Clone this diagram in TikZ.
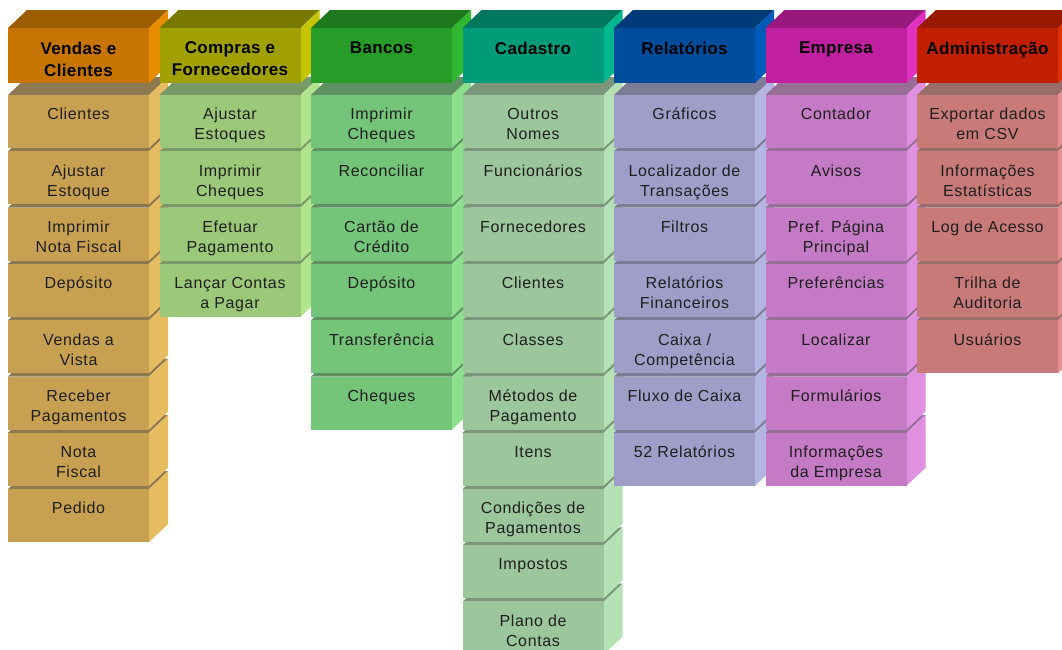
\documentclass[tikz,border=0pt]{standalone}
\usepackage{fontspec}
\setmainfont{Liberation Sans}
\newfontfamily\menufont[LetterSpace=4]{Liberation Sans}
\newfontfamily\titlefont[LetterSpace=2]{Liberation Sans}

% header colours: front, top, side; item colours: front, top, side
\definecolor{vendashead}{HTML}{C87400}\definecolor{vendashtop}{HTML}{9C5C00}\definecolor{vendashside}{HTML}{E88C00}
\definecolor{vendasitem}{HTML}{C8A052}\definecolor{vendastop}{HTML}{8E7850}\definecolor{vendasside}{HTML}{E6BC60}
\definecolor{comprashead}{HTML}{A0A000}\definecolor{comprashtop}{HTML}{787800}\definecolor{comprashside}{HTML}{C4C400}
\definecolor{comprasitem}{HTML}{9CC87A}\definecolor{comprastop}{HTML}{789A68}\definecolor{comprasside}{HTML}{B2E48E}
\definecolor{bancoshead}{HTML}{289C28}\definecolor{bancoshtop}{HTML}{1E781E}\definecolor{bancoshside}{HTML}{30B830}
\definecolor{bancositem}{HTML}{74C47A}\definecolor{bancostop}{HTML}{5E9262}\definecolor{bancosside}{HTML}{8CE08C}
\definecolor{cadastrohead}{HTML}{009C7A}\definecolor{cadastrohtop}{HTML}{00785E}\definecolor{cadastrohside}{HTML}{00B890}
\definecolor{cadastroitem}{HTML}{9CC69C}\definecolor{cadastrotop}{HTML}{7C967C}\definecolor{cadastroside}{HTML}{B4E2B4}
\definecolor{relatorioshead}{HTML}{004C9C}\definecolor{relatorioshtop}{HTML}{003A78}\definecolor{relatorioshside}{HTML}{005AB8}
\definecolor{relatoriositem}{HTML}{9E9EC8}\definecolor{relatoriostop}{HTML}{7C7C96}\definecolor{relatoriosside}{HTML}{B4B4E0}
\definecolor{empresahead}{HTML}{C020A0}\definecolor{empresahtop}{HTML}{98187E}\definecolor{empresahside}{HTML}{E030C0}
\definecolor{empresaitem}{HTML}{C47AC4}\definecolor{empresatop}{HTML}{966E96}\definecolor{empresaside}{HTML}{E090E0}
\definecolor{adminhead}{HTML}{C02000}\definecolor{adminhtop}{HTML}{981800}\definecolor{adminhside}{HTML}{E03000}
\definecolor{adminitem}{HTML}{C87A78}\definecolor{admintop}{HTML}{986C68}\definecolor{adminside}{HTML}{E49090}

% #1 left x, #2 colour prefix, #3 header text, #4 items
\newcommand{\menustack}[4]{%
  \foreach \txt [count=\i from 0] in {#4}
    \fill[#2top] (#1, 95+56.3*\i) -- ++(141,0) -- ++(19,-18) -- ++(-141,0) -- cycle;
  \foreach \txt [count=\i from 0] in {#4} {
    \fill[#2side] (#1+141, 95+56.3*\i) -- ++(19,-18) -- ++(0,53) -- ++(-19,18) -- cycle;
    \fill[#2item] (#1, 95+56.3*\i) rectangle ++(141,53);
    \node[itemlabel] (#2-\i) at (#1+70.5, 108+56.3*\i) {\txt};
  }
  \fill[#2htop] (#1,28) -- ++(141,0) -- ++(19,-18) -- ++(-141,0) -- cycle;
  \fill[#2hside] (#1+141,28) -- ++(19,-18) -- ++(0,55) -- ++(-19,18) -- cycle;
  \fill[#2head] (#1,28) rectangle ++(141,55);
  \node[headlabel] (#2-head) at (#1+70.5,41.5) {#3};
}

\begin{document}
\begin{tikzpicture}[x=1pt, y=-1pt,
  itemlabel/.style={anchor=north, inner sep=0pt, align=center, text=black!88,
    font=\menufont\fontsize{16}{20}\selectfont},
  headlabel/.style={anchor=north, inner sep=0pt, align=center, text=black,
    font=\titlefont\bfseries\fontsize{17}{22}\selectfont}]
\useasboundingbox[fill=white] (0,0) rectangle (1062,649);
\clip (0,0) rectangle (1062,649);

% Stacks
\menustack{8}{vendas}{Vendas e\\Clientes}{Clientes, {Ajustar\\Estoque}, {Imprimir\\Nota Fiscal}, Depósito, {Vendas a\\Vista}, {Receber\\Pagamentos}, {Nota\\Fiscal}, Pedido}
\menustack{159.5}{compras}{Compras e\\Fornecedores}{{Ajustar\\Estoques}, {Imprimir\\Cheques}, {Efetuar\\Pagamento}, {Lançar Contas\\a Pagar}}
\menustack{311}{bancos}{Bancos}{{Imprimir\\Cheques}, Reconciliar, {Cartão de\\Crédito}, Depósito, Transferência, Cheques}
\menustack{462.5}{cadastro}{Cadastro}{{Outros\\Nomes}, Funcionários, Fornecedores, Clientes, Classes, {Métodos de\\Pagamento}, Itens, {Condições de\\Pagamentos}, Impostos, {Plano de\\Contas}}
\menustack{614}{relatorios}{Relatórios}{Gráficos, {Localizador de\\Transações}, Filtros, {Relatórios\\Financeiros}, {Caixa /\\Competência}, Fluxo de Caixa, 52 Relatórios}
\menustack{765.5}{empresa}{Empresa}{Contador, Avisos, {Pref. Página\\Principal}, Preferências, Localizar, Formulários, {Informações\\da Empresa}}
\menustack{917}{admin}{Administração}{{Exportar dados\\em CSV}, {Informações\\Estatísticas}, Log de Acesso, {Trilha de\\Auditoria}, Usuários}
\end{tikzpicture}
\end{document}
